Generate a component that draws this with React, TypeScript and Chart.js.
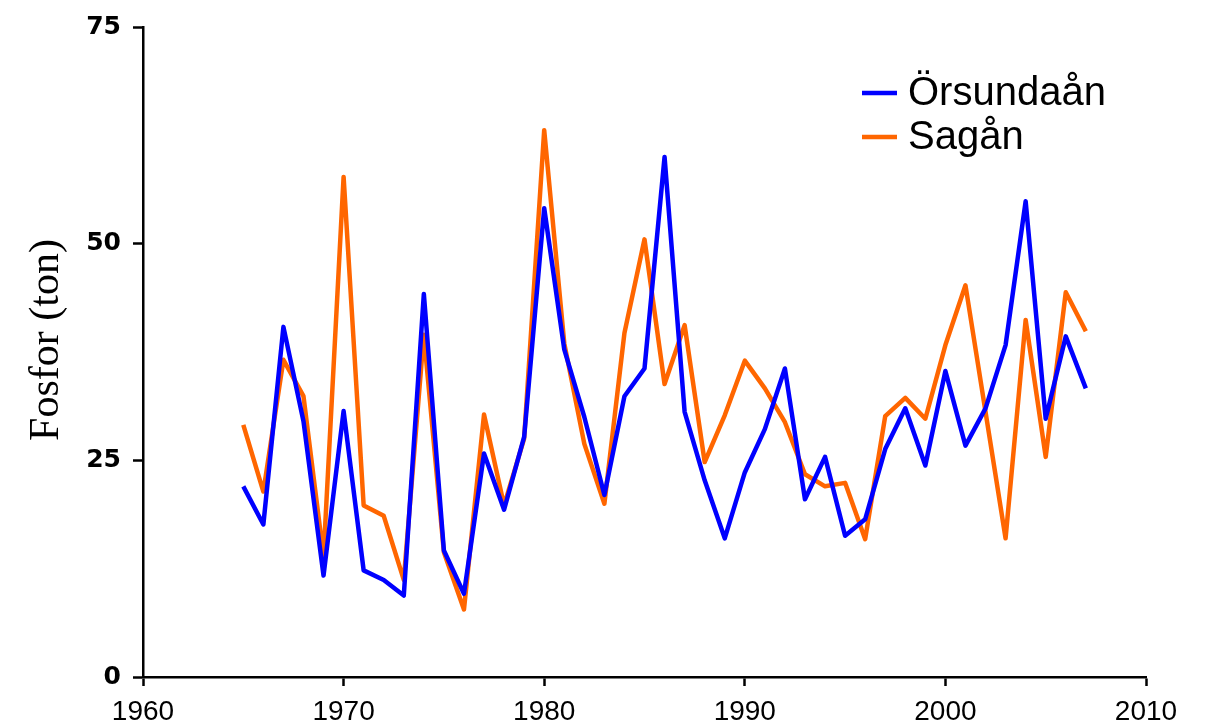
import React, { useEffect, useRef } from "react";
import { Chart, registerables } from "chart.js";

Chart.register(...registerables);

const years = [
  1965, 1966, 1967, 1968, 1969, 1970, 1971, 1972, 1973, 1974,
  1975, 1976, 1977, 1978, 1979, 1980, 1981, 1982, 1983, 1984,
  1985, 1986, 1987, 1988, 1989, 1990, 1991, 1992, 1993, 1994,
  1995, 1996, 1997, 1998, 1999, 2000, 2001, 2002, 2003, 2004,
  2005, 2006, 2007,
];

const orsundaan = [
  22.0, 17.6, 40.4, 29.5, 11.7, 30.7, 12.3, 11.2, 9.4, 44.2,
  14.6, 9.6, 25.8, 19.3, 27.7, 54.1, 37.8, 30.0, 21.0, 32.4,
  35.6, 60.0, 30.6, 22.7, 16.0, 23.6, 28.6, 35.6, 20.5, 25.4,
  16.3, 18.2, 26.3, 31.0, 24.4, 35.3, 26.7, 31.0, 38.3, 54.9,
  29.8, 39.3, 33.3,
];

const sagan = [
  29.1, 21.4, 36.6, 32.4, 13.9, 57.7, 19.8, 18.6, 11.2, 39.5,
  14.4, 7.8, 30.3, 19.8, 27.5, 63.1, 38.5, 26.9, 20.0, 39.7,
  50.5, 33.8, 40.6, 24.8, 30.2, 36.5, 33.3, 29.4, 23.4, 22.0,
  22.4, 15.9, 30.1, 32.2, 29.8, 38.3, 45.2, 30.6, 16.0, 41.2,
  25.4, 44.4, 39.9,
];

const xTicks = [1960, 1970, 1980, 1990, 2000, 2010];
const yTicks = [0, 25, 50, 75];
const seriesNames = ["Örsundaån", "Sagån"];
const seriesColors = ["#0000ff", "#ff6600"];
const yTitle = "Fosfor (ton)";

const legendPlugin = {
  id: "customLegend",
  afterDraw(chart: any) {
    const ctx = chart.ctx;
    chart.data.datasets.forEach((ds: any, i: number) => {
      const y = 93 + i * 44;
      ctx.save();
      ctx.strokeStyle = ds.borderColor;
      ctx.lineWidth = 4.5;
      ctx.lineCap = "butt";
      ctx.beginPath();
      ctx.moveTo(862, y);
      ctx.lineTo(897, y);
      ctx.stroke();
      ctx.fillStyle = "#000";
      ctx.font = '40px "Liberation Sans", Arial, sans-serif';
      ctx.textBaseline = "middle";
      ctx.textAlign = "left";
      ctx.fillText(ds.label, 908, y + 1);
      ctx.restore();
    });
    // y-axis title
    const ya = chart.scales.y;
    ctx.save();
    ctx.translate(47, (ya.top + ya.bottom) / 2 - 12);
    ctx.rotate(-Math.PI / 2);
    ctx.fillStyle = "#000";
    ctx.font = '42px "Liberation Serif", "Times New Roman", serif';
    ctx.textAlign = "center";
    ctx.textBaseline = "middle";
    ctx.fillText(yTitle, 0, 0);
    ctx.restore();
  },
};

export default function App() {
  const ref = useRef<HTMLCanvasElement | null>(null);

  useEffect(() => {
    if (!ref.current) return;
    const chart = new Chart(ref.current, {
      type: "line",
      data: {
        datasets: [
          {
            label: seriesNames[0],
            data: years.map((y, i) => ({ x: y, y: orsundaan[i] })),
            borderColor: seriesColors[0],
            backgroundColor: seriesColors[0],
            borderWidth: 4.5,
            pointRadius: 0,
            tension: 0,
            borderJoinStyle: "round",
          },
          {
            label: seriesNames[1],
            data: years.map((y, i) => ({ x: y, y: sagan[i] })),
            borderColor: seriesColors[1],
            backgroundColor: seriesColors[1],
            borderWidth: 4.5,
            pointRadius: 0,
            tension: 0,
            borderJoinStyle: "round",
          },
        ],
      },
      options: {
        responsive: false,
        animation: false,
        layout: { padding: { top: 21, right: 65, left: 0, bottom: 0 } },
        plugins: {
          legend: { display: false },
          tooltip: { enabled: false },
        },
        scales: {
          x: {
            type: "linear",
            min: 1960,
            max: 2010,
            afterBuildTicks: (s: any) => {
              s.ticks = xTicks.map((v) => ({ value: v }));
            },
            afterFit: (s: any) => {
              s.height = 51;
            },
            ticks: {
              autoSkip: false,
              maxRotation: 0,
              color: "#000",
              padding: 9,
              font: { family: '"Liberation Sans", Arial, sans-serif', size: 28 },
              callback: (v: any) => String(v),
            },
            grid: {
              display: true,
              drawOnChartArea: false,
              drawTicks: true,
              tickLength: 9,
              tickWidth: 2.5,
              tickColor: "#000",
            },
            border: { display: true, color: "#000", width: 2.5 },
          },
          y: {
            type: "linear",
            min: 0,
            max: 75,
            afterBuildTicks: (s: any) => {
              s.ticks = yTicks.map((v) => ({ value: v }));
            },
            afterFit: (s: any) => {
              s.width = 143;
            },
            ticks: {
              color: "#000",
              padding: 12,
              font: { family: '"DejaVu Sans", sans-serif', size: 25, weight: "bold" },
              callback: (v: any) => String(v),
            },
            grid: {
              display: true,
              drawOnChartArea: false,
              drawTicks: true,
              tickLength: 10,
              tickWidth: 2.5,
              tickColor: "#000",
            },
            border: { display: true, color: "#000", width: 2.5 },
          },
        },
      },
      plugins: [legendPlugin],
    });
    return () => chart.destroy();
  }, []);

  return (
    <div style={{ position: "absolute", left: 0, top: 0, width: 1211, height: 728, background: "#fff" }}>
      <canvas ref={ref} width={1211} height={728} style={{ display: "block" }} />
    </div>
  );
}
